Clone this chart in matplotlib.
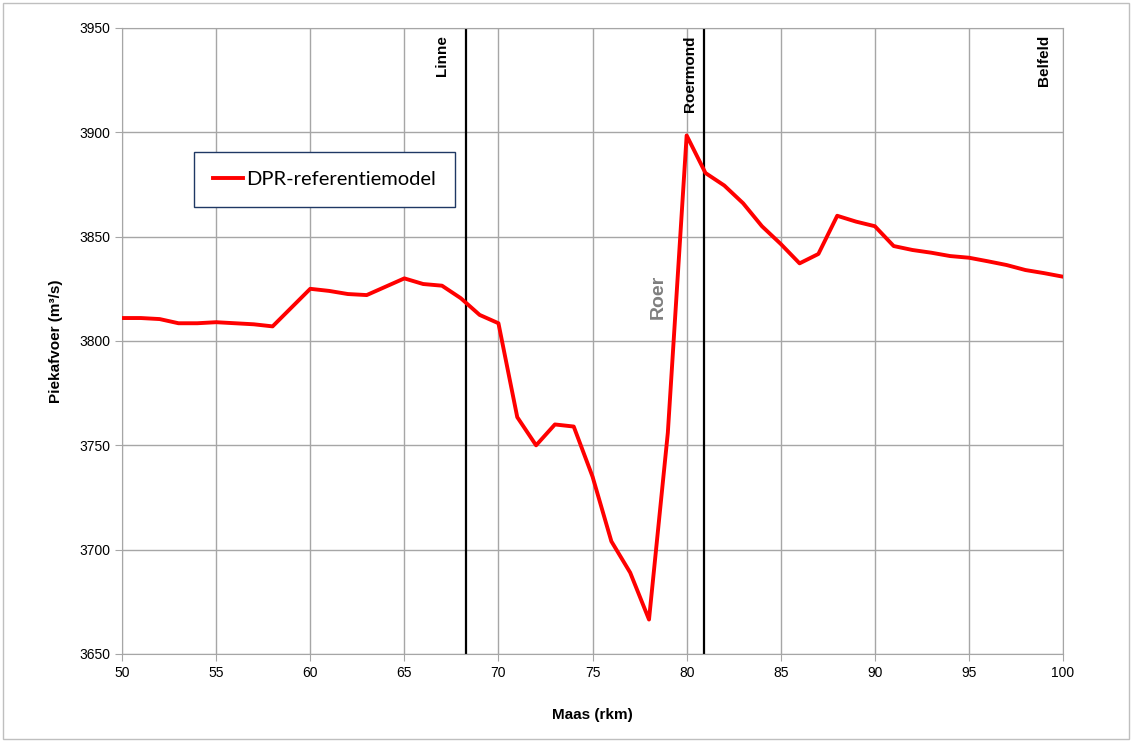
import matplotlib
matplotlib.use("Agg")
import matplotlib.pyplot as plt
from matplotlib.patches import Rectangle

# rivierkilometer en piekafvoer (m3/s)
rkm = list(range(50, 101))
piekafvoer = [3811, 3811, 3810.5, 3808.5, 3808.5, 3809, 3808.5, 3808, 3807, 3816,
              3825, 3824, 3822.5, 3822, 3826, 3830, 3827.3, 3826.5, 3820.5, 3812.5,
              3808.5, 3763.5, 3750, 3760, 3759, 3735, 3704, 3689, 3666.5, 3756,
              3898.5, 3880.5, 3874.5, 3866, 3855, 3846.5, 3837.2, 3841.7, 3860, 3857.2,
              3855, 3845.5, 3843.6, 3842.3, 3840.7, 3839.9, 3838.2, 3836.4, 3834, 3832.5,
              3830.8]

plaatsen = ["Linne", "Roermond", "Belfeld"]
plaats_rkm = [67.0, 80.2, 99.0]
lijn_rkm = [68.3, 80.9]

plt.rcParams['font.family'] = ['Liberation Sans', 'DejaVu Sans']

fig = plt.figure(figsize=(11.32, 7.42), dpi=100)
ax = fig.add_axes([0.1078, 0.1186, 0.8313, 0.8437])

# buitenrand van de grafiek
fig.patches.append(Rectangle((0.003, 0.004), 0.994, 0.992, transform=fig.transFigure,
                             fill=False, edgecolor="#bfbfbf", linewidth=1))

ax.plot(rkm, piekafvoer, color="red", lw=2.8, label="DPR-referentiemodel", zorder=3)

for x in lijn_rkm:
    ax.axvline(x, color="black", lw=1.6, zorder=2)

ax.set_xlim(50, 100)
ax.set_ylim(3650, 3950)
ax.set_xticks(range(50, 101, 5))
ax.set_yticks(range(3650, 3951, 50))
ax.grid(True, color="#a6a6a6", lw=1)
ax.set_axisbelow(True)
for s in ax.spines.values():
    s.set_color("#a6a6a6")
ax.tick_params(axis="both", colors="#a6a6a6", labelcolor="black", labelsize=10, length=5)

ax.set_xlabel("Maas (rkm)", fontsize=11, fontweight="bold", labelpad=20)
ax.set_ylabel("Piekafvoer (m³/s)", fontsize=11, fontweight="bold", labelpad=12)

for naam, x in zip(plaatsen, plaats_rkm):
    ax.text(x, 3946.6, naam, rotation=90, ha="center", va="top",
            fontsize=11, fontweight="bold")

ax.text(78.5, 3821, "Roer", rotation=90, ha="center", va="center",
        fontsize=14, fontweight="bold", color="#7f7f7f")

leg = ax.legend(loc="upper left", bbox_to_anchor=(0.0765, 0.802),
                handlelength=1.5, handletextpad=0.15, borderpad=0.95, borderaxespad=0,
                fancybox=False, framealpha=1, prop={'family': ['Lato', 'DejaVu Sans'], 'size': 14.5})
leg.get_frame().set_edgecolor("#1f3864")
leg.get_frame().set_linewidth(1)

plt.savefig("out.png", dpi=100)
